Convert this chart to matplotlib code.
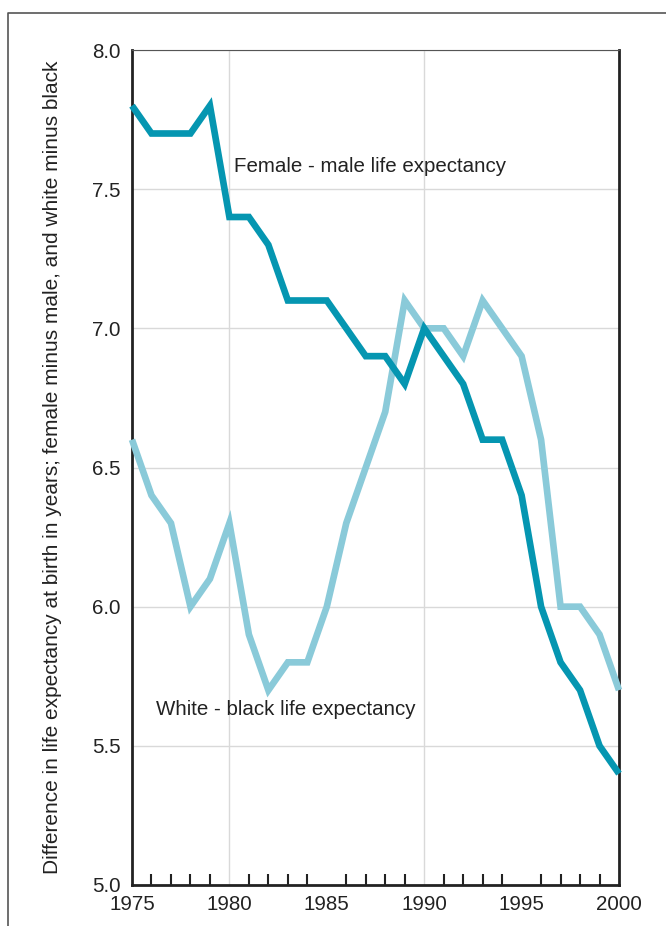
import matplotlib
matplotlib.use("Agg")
import matplotlib.pyplot as plt
from matplotlib.lines import Line2D

plt.rcParams['font.family'] = ['Liberation Sans', 'DejaVu Sans']

years = list(range(1975, 2001))
female_minus_male = [7.8, 7.7, 7.7, 7.7, 7.8, 7.4, 7.4, 7.3, 7.1, 7.1, 7.1, 7.0, 6.9,
                     6.9, 6.8, 7.0, 6.9, 6.8, 6.6, 6.6, 6.4, 6.0, 5.8, 5.7, 5.5, 5.4]
white_minus_black = [6.6, 6.4, 6.3, 6.0, 6.1, 6.3, 5.9, 5.7, 5.8, 5.8, 6.0, 6.3, 6.5,
                     6.7, 7.1, 7.0, 7.0, 6.9, 7.1, 7.0, 6.9, 6.6, 6.0, 6.0, 5.9, 5.7]
xtick_labels = ['1975', '1980', '1985', '1990', '1995', '2000']
ytick_values = [5.0, 5.5, 6.0, 6.5, 7.0, 7.5, 8.0]
ylabel = "Difference in life expectancy at birth in years; female minus male, and white minus black"

fig = plt.figure(figsize=(6.66, 9.26), dpi=100)
ax = fig.add_axes([132/666, 1-885/926, (619-132)/666, (885-50)/926])

dark = '#0596B1'
light = '#8ACAD9'

ax.plot(years, white_minus_black, color=light, lw=4.8, solid_capstyle='butt',
        solid_joinstyle='miter', zorder=3, clip_on=False)
ax.plot(years, female_minus_male, color=dark, lw=4.8, solid_capstyle='butt',
        solid_joinstyle='miter', zorder=4, clip_on=False)

ax.set_xlim(1975, 2000)
ax.set_ylim(5.0, 8.0)

major_x = [int(t) for t in xtick_labels]
ax.set_xticks(major_x)
ax.set_xticklabels(xtick_labels)
ax.set_xticks([y for y in years if y not in major_x], minor=True)
ax.tick_params(axis='x', which='major', length=0, pad=7, labelsize=14.8, colors='#222222')
ax.tick_params(axis='x', which='minor', direction='in', length=8, width=1.5, color='#222222')

ax.set_yticks(ytick_values)
ax.set_yticklabels([f"{v:.1f}" for v in ytick_values])
ax.tick_params(axis='y', length=0, pad=8, labelsize=14.8, colors='#222222')

ax.yaxis.grid(True, color='#d9d9d9', lw=1)
for gx in (1980, 1990):
    ax.axvline(gx, color='#d9d9d9', lw=1, zorder=1)
ax.set_axisbelow(True)

for s in ('left', 'right', 'bottom'):
    ax.spines[s].set_color('#222222')
    ax.spines[s].set_linewidth(2)
ax.spines['top'].set_color('#555555')
ax.spines['top'].set_linewidth(0.8)
ax.spines['top'].set_linestyle((0, (1, 1)))

ax.set_ylabel(ylabel, fontsize=15, color='#222222', labelpad=22)

ax.text(1980.25, 7.58, "Female - male life expectancy", fontsize=14.8, color='#222222',
        va='center', ha='left')
ax.text(1976.25, 5.63, "White - black life expectancy", fontsize=14.8, color='#222222',
        va='center', ha='left')

fig.add_artist(Line2D([8/666, 8/666, 1.0], [0.0, 1-13/926, 1-13/926],
                      transform=fig.transFigure, color='#555555', lw=1.2))

fig.savefig('out.png', dpi=100)
